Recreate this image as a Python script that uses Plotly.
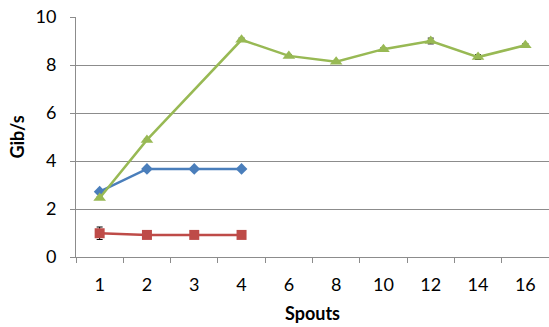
import plotly.graph_objects as go

# Throughput per spout count
spouts = ["1", "2", "3", "4", "6", "8", "10", "12", "14", "16"]

blue_vals = [2.72, 3.67, 3.67, 3.67, None, None, None, None, None, None]
blue_err = [0.04, 0.03, 0.03, 0.03, 0, 0, 0, 0, 0, 0]

red_vals = [0.99, 0.92, 0.92, 0.92, None, None, None, None, None, None]
red_err = [0.26, 0.03, 0.03, 0.03, 0, 0, 0, 0, 0, 0]

green_vals = [2.46, 4.88, None, 9.05, 8.38, 8.14, 8.66, 9.0, 8.33, 8.82]
green_err = [0.04, 0.05, 0, 0.07, 0.05, 0.05, 0.06, 0.12, 0.1, 0.07]

BLUE = "#4A7EBB"
RED = "#BE4B48"
GREEN = "#98B954"
GRID = "#8C8C8C"
FONT = "Lato"

fig = go.Figure()


def add_series(vals, errs, color, symbol, size):
    fig.add_trace(go.Scatter(
        x=spouts, y=vals,
        mode="lines+markers",
        connectgaps=True,
        line=dict(color=color, width=2.5),
        marker=dict(color=color, symbol=symbol, size=size),
        error_y=dict(type="data", array=errs, visible=True,
                     color="black", thickness=1, width=3),
        showlegend=False,
    ))


add_series(blue_vals, blue_err, BLUE, "diamond", 9)
add_series(red_vals, red_err, RED, "square", 10)
add_series(green_vals, green_err, GREEN, "triangle-up", 11)

fig.update_layout(
    width=549, height=327,
    margin=dict(l=76, r=0, t=17, b=70),
    paper_bgcolor="white", plot_bgcolor="white",
    font=dict(family=FONT, size=18, color="black"),
)

fig.update_xaxes(
    type="category",
    categoryorder="array", categoryarray=spouts,
    range=[-0.5, len(spouts) - 0.5],
    tickson="boundaries",
    ticks="outside", ticklen=5, tickcolor=GRID, tickwidth=1,
    showline=True, linecolor=GRID, linewidth=1,
    showgrid=False, zeroline=False,
    tickfont=dict(family=FONT, size=18),
    ticklabelstandoff=11,
    title=dict(text="<b>Spouts</b>", font=dict(family=FONT, size=18), standoff=13),
)

fig.update_yaxes(
    range=[0, 10], dtick=2,
    ticks="outside", ticklen=5, tickcolor=GRID, tickwidth=1,
    showline=True, linecolor=GRID, linewidth=1,
    showgrid=True, gridcolor=GRID, gridwidth=1,
    zeroline=False,
    tickfont=dict(family=FONT, size=18),
    ticklabelstandoff=10,
    title=dict(text="<b>Gib/s</b>", font=dict(family=FONT, size=18), standoff=6),
)

fig.write_html("out.html")
